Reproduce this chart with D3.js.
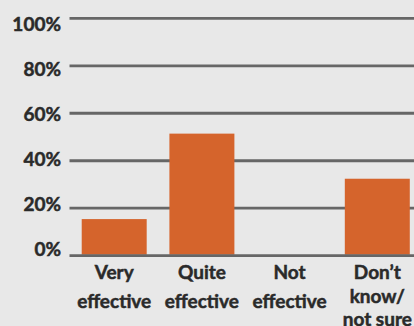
<!DOCTYPE html>
<html>
<head>
<meta charset="utf-8">
<script src="https://cdn.jsdelivr.net/npm/d3@7/dist/d3.min.js"></script>
<style>
  html, body { margin: 0; padding: 0; background: #e8e8e8; }
  svg { display: block; }
  text { font-family: Lato, "Open Sans", sans-serif; font-weight: 700; fill: #2a2a2a; stroke: #2a2a2a; stroke-width: 0.5px; }
</style>
</head>
<body>
<svg id="chart" width="414" height="326"></svg>
<script>
const categories = ["Very effective", "Quite effective", "Not effective", "Don't know/ not sure"];
const categoryLines = [["Very", "effective"], ["Quite", "effective"], ["Not", "effective"], ["Don\u2019t", "know/", "not sure"]];
const values = [15, 51, 0, 32];
const tickValues = [0, 20, 40, 60, 80, 100];
const tickLabels = ["0%", "20%", "40%", "60%", "80%", "100%"];

const W = 414, H = 326;
const svg = d3.select("#chart");

const x = d3.scaleBand().domain(categories).range([70.35, 421.15]).paddingInner(0.259).paddingOuter(0.1295);
const y = d3.scaleLinear().domain([0, 100]).range([255.7, 18.3]);
const yLabel = d3.scaleLinear().domain([0, 100]).range([249, 24]);

// gridlines (excluding baseline)
svg.append("g").selectAll("line").data(tickValues.filter(v => v !== 0)).join("line")
  .attr("x1", 69.5).attr("x2", W)
  .attr("y1", d => y(d)).attr("y2", d => y(d))
  .attr("stroke", "#666").attr("stroke-width", 2.8);

// bars
svg.append("g").selectAll("rect").data(values).join("rect")
  .attr("x", (d, i) => x(categories[i]))
  .attr("width", x.bandwidth())
  .attr("y", d => y(d) - 1)
  .attr("height", d => d === 0 ? 0 : y(0) - y(d))
  .attr("fill", "#d5642c");

// baseline on top
svg.append("line")
  .attr("x1", 69.5).attr("x2", W)
  .attr("y1", y(0)).attr("y2", y(0))
  .attr("stroke", "#666").attr("stroke-width", 2.8);

// y tick labels
svg.append("g").selectAll("text").data(tickValues).join("text")
  .attr("x", 61)
  .attr("y", d => yLabel(d))
  .attr("dy", "0.36em")
  .attr("text-anchor", "end")
  .style("font-size", "19px")
  .text((d, i) => tickLabels[i]);

// category labels
const cg = svg.append("g").selectAll("text").data(categories).join("text")
  .attr("text-anchor", "middle")
  .style("font-size", "19px");
cg.each(function(d, i) {
  const lines = categoryLines[i];
  const lh = lines.length === 3 ? 23.5 : 29;
  const cx = x(d) + x.bandwidth() / 2;
  d3.select(this).selectAll("tspan").data(lines).join("tspan")
    .attr("x", cx)
    .attr("y", (l, j) => 279 + j * lh)
    .text(l => l);
});
</script>
</body>
</html>
